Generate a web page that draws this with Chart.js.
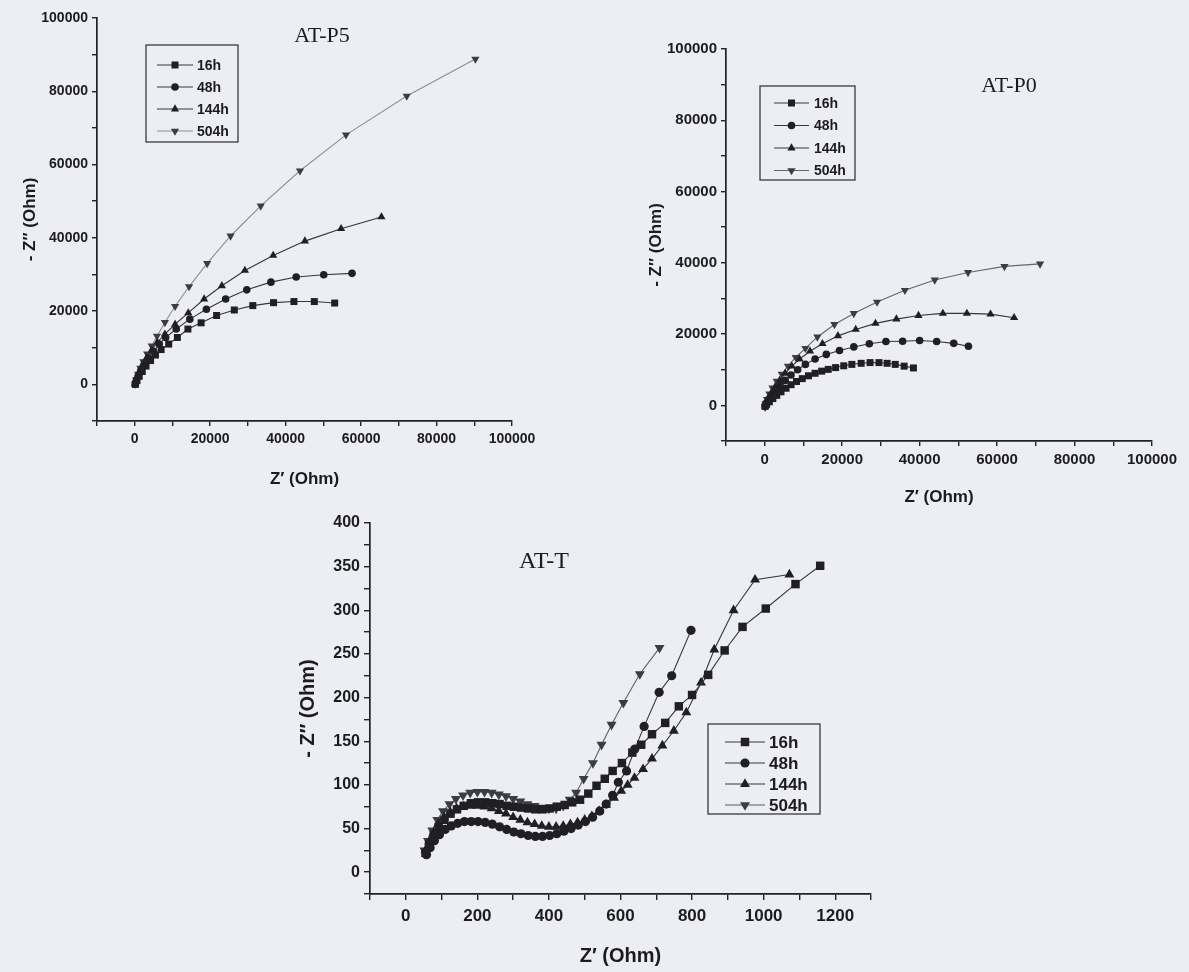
<!DOCTYPE html>
<html>
<head>
<meta charset="utf-8">
<title>AT impedance spectra</title>
<script src="https://cdn.jsdelivr.net/npm/chart.js@4.4.1/dist/chart.umd.min.js"></script>
<style>
  html, body { margin: 0; padding: 0; background: #eceef3; }
  body { width: 1189px; height: 972px; position: relative; overflow: hidden; }
  .panel { position: absolute; }
</style>
</head>
<body>
<div class="panel" style="left:0;top:0"><canvas id="chartP5" width="560" height="500"></canvas></div>
<div class="panel" style="left:620px;top:0"><canvas id="chartP0" width="569" height="510"></canvas></div>
<div class="panel" style="left:280px;top:500px"><canvas id="chartT" width="620" height="472"></canvas></div>
<script>
// series names, shared by the three panels
const SERIES = ['16h', '48h', '144h', '504h'];

// tick labels
const P5_X_TICKS = [0, 20000, 40000, 60000, 80000, 100000];
const P5_Y_TICKS = [0, 20000, 40000, 60000, 80000, 100000];
const P0_X_TICKS = [0, 20000, 40000, 60000, 80000, 100000];
const P0_Y_TICKS = [0, 20000, 40000, 60000, 80000, 100000];
const T_X_TICKS = [0, 200, 400, 600, 800, 1000, 1200];
const T_Y_TICKS = [0, 50, 100, 150, 200, 250, 300, 350, 400];

// AT-P5 : [Z', -Z''] in Ohm
const P5_16H = [[200,0],[600,1000],[1200,2200],[2000,3500],[3000,5000],[4200,6500],[5500,8000],[7000,9500],[9000,11000],[11300,12800],[14100,15100],[17600,16800],[21700,18800],[26400,20300],[31300,21500],[36800,22300],[42200,22600],[47600,22600],[53000,22200]];
const P5_48H = [[100,0],[400,1000],[900,2300],[1600,3800],[2500,5500],[3700,7200],[5000,9000],[6500,11000],[8200,12800],[11000,15100],[14600,17800],[19000,20500],[24100,23300],[29700,25800],[36100,27900],[42800,29300],[50100,29900],[57600,30300]];
const P5_144H = [[100,0],[300,1000],[800,2300],[1400,3800],[2200,5500],[3200,7300],[4500,9300],[6000,11500],[8000,13700],[10700,16400],[14200,19500],[18400,23300],[23100,26900],[29200,31100],[36700,35200],[45100,39100],[54700,42500],[65400,45700]];
const P5_504H = [[100,200],[400,1300],[900,2800],[1500,4400],[2300,6200],[3300,8300],[4500,10500],[5900,13200],[8000,16900],[10700,21300],[14400,26700],[19200,33000],[25400,40500],[33400,48700],[43800,58300],[56000,68100],[72100,78700],[90300,88800]];

// AT-P0
const P0_16H = [[100,-300],[500,300],[1200,1000],[2100,1900],[3100,2800],[4200,3800],[5500,4800],[6800,5800],[8200,6700],[9700,7500],[11300,8300],[13000,9000],[14700,9600],[16400,10100],[18300,10600],[20400,11100],[22500,11500],[24900,11800],[27200,12000],[29500,12000],[31600,11800],[33700,11500],[36000,11000],[38400,10500]];
const P0_48H = [[100,-200],[500,700],[1100,1700],[1900,2900],[2900,4200],[4000,5500],[5300,7000],[6800,8500],[8500,10000],[10500,11500],[13000,13000],[15900,14300],[19300,15400],[23000,16400],[27000,17300],[31300,17900],[35600,18000],[40000,18200],[44400,17900],[48800,17400],[52600,16600]];
const P0_144H = [[100,-300],[300,600],[900,2000],[1700,3500],[2700,5200],[3900,7000],[5300,9000],[7000,11000],[9000,13000],[11700,15200],[14900,17300],[18900,19500],[23500,21300],[28600,23000],[34000,24200],[39700,25200],[46000,25800],[52200,25800],[58300,25600],[64400,24600]];
const P0_504H = [[100,-500],[200,500],[600,1700],[1200,3200],[2000,4900],[3100,6800],[4400,8800],[6000,11000],[8000,13500],[10500,16000],[13600,19200],[18000,22700],[23000,25800],[29000,29000],[36200,32300],[43900,35200],[52500,37300],[61900,39000],[71100,39700]];

// AT-T
const T_16H = [[55,22],[65,32],[78,42],[92,52],[108,60],[125,67],[143,72],[162,76],[182,79],[202,80],[222,80],[242,79],[262,78],[282,76],[302,75],[322,74],[342,73],[362,72],[382,72],[402,73],[422,75],[444,77],[465,80],[487,83],[510,90],[533,99],[556,107],[578,116],[604,125],[633,137],[658,146],[688,158],[725,171],[763,190],[800,203],[845,226],[891,254],[941,281],[1006,302],[1089,330],[1158,351]];
const T_48H = [[58,20],[68,28],[80,36],[94,43],[110,49],[127,53],[145,56],[164,58],[183,58],[202,58],[222,57],[242,55],[262,52],[282,49],[302,46],[322,44],[342,42],[362,41],[382,41],[402,42],[422,44],[442,47],[462,50],[482,54],[502,58],[522,63],[542,70],[560,78],[578,88],[594,103],[617,116],[640,141],[666,167],[708,206],[743,225],[797,277]];
const T_144H = [[55,25],[65,35],[77,45],[91,55],[107,63],[124,69],[142,73],[161,75],[180,76],[200,76],[220,75],[240,73],[260,70],[280,67],[300,63],[320,60],[340,57],[360,55],[380,53],[400,52],[420,52],[440,53],[460,55],[480,57],[500,60],[520,64],[540,70],[560,77],[582,85],[602,93],[620,100],[639,108],[663,118],[688,130],[717,145],[749,162],[784,183],[825,217],[862,255],[916,300],[976,335],[1072,341]];
const T_504H = [[52,25],[62,36],[74,48],[88,60],[104,70],[122,78],[140,84],[160,88],[180,91],[200,92],[220,92],[240,91],[260,89],[280,87],[300,84],[320,81],[340,78],[360,76],[380,74],[400,73],[420,73],[440,76],[458,83],[476,91],[497,107],[523,125],[547,146],[575,169],[608,194],[654,227],[709,257]];

const INK = '#1c1c1f';
const MARKERS = [
    { style: 'rect', rot: 0, scale: 1.3 },
    { style: 'circle', rot: 0, scale: 1.0 },
    { style: 'triangle', rot: 0, scale: 1.25 },
    { style: 'triangle', rot: 180, scale: 1.25 }
];

// title + boxed legend drawn on top of the plot
const panelDecor = {
    id: 'panelDecor',
    afterDraw(chart, args, opts) {
        const ctx = chart.ctx;
        ctx.save();
        ctx.fillStyle = INK;
        ctx.font = opts.titleFont;
        ctx.textAlign = 'center';
        ctx.textBaseline = 'middle';
        ctx.fillText(opts.title, opts.titleX, opts.titleY);

        const lg = opts.legend;
        ctx.fillStyle = '#eceef3';
        ctx.fillRect(lg.left, lg.top, lg.width, lg.height);
        ctx.strokeStyle = '#3a3a3e';
        ctx.lineWidth = 1.3;
        ctx.strokeRect(lg.left, lg.top, lg.width, lg.height);
        chart.data.datasets.forEach((ds, i) => {
            const y = lg.top + lg.rowStart + i * lg.rowGap;
            ctx.strokeStyle = ds.borderColor;
            ctx.lineWidth = 1.2;
            ctx.beginPath();
            ctx.moveTo(lg.lineX0, y);
            ctx.lineTo(lg.lineX1, y);
            ctx.stroke();
            ctx.fillStyle = ds.pointBackgroundColor;
            Chart.helpers.drawPoint(ctx, {
                pointStyle: ds.pointStyle, rotation: ds.pointRotation,
                radius: ds.pointRadius, borderWidth: 0
            }, (lg.lineX0 + lg.lineX1) / 2, y);
            ctx.fillStyle = INK;
            ctx.font = lg.font;
            ctx.textAlign = 'left';
            ctx.fillText(ds.label, lg.textX, y + 1);
        });
        ctx.restore();
    }
};

function makeDatasets(seriesData, radius, lightColor) {
    return seriesData.map((pts, i) => ({
        label: SERIES[i],
        data: pts.map(p => ({ x: p[0], y: p[1] })),
        showLine: true,
        borderColor: i === 3 ? lightColor : '#36363a',
        borderWidth: 1.1,
        pointStyle: MARKERS[i].style,
        pointRotation: MARKERS[i].rot,
        pointRadius: radius * MARKERS[i].scale,
        pointBackgroundColor: i === 3 ? '#3c3c46' : '#202024',
        pointBorderWidth: 0,
        pointHoverRadius: radius * MARKERS[i].scale
    }));
}

function makeAxis(c) {
    const horizontal = c.position === 'bottom';
    return {
        type: 'linear',
        position: c.position,
        min: c.min,
        max: c.max,
        afterFit: s => { if (horizontal) s.height = c.size; else s.width = c.size; },
        border: { display: true, color: '#222226', width: 1.7 },
        grid: { drawOnChartArea: false, drawTicks: true, tickLength: c.tickLen, color: '#222226', lineWidth: 1.4 },
        ticks: {
            stepSize: c.step,
            autoSkip: false,
            maxRotation: 0,
            padding: c.tickPad,
            color: INK,
            font: { family: 'Liberation Sans, Arial, sans-serif', weight: 'bold', size: c.tickFont },
            callback: v => c.labels.includes(v) ? String(v) : ''
        },
        title: {
            display: true,
            text: c.title,
            color: INK,
            font: { family: 'Liberation Sans, Arial, sans-serif', weight: 'bold', size: c.titleFont },
            padding: horizontal ? { top: 0, bottom: c.titlePad } : { top: c.titlePad, bottom: 0 }
        }
    };
}

function makeChart(id, datasets, padding, xAxis, yAxis, decor) {
    return new Chart(document.getElementById(id), {
        type: 'scatter',
        data: { datasets: datasets },
        plugins: [panelDecor],
        options: {
            responsive: false,
            animation: false,
            devicePixelRatio: 1,
            layout: { padding: padding },
            plugins: {
                legend: { display: false },
                tooltip: { enabled: false },
                panelDecor: decor
            },
            scales: { x: makeAxis(xAxis), y: makeAxis(yAxis) }
        }
    });
}

makeChart('chartP5',
    makeDatasets([P5_16H, P5_48H, P5_144H, P5_504H], 3.8, '#8e8e96'),
    { left: 0, top: 18, right: 48, bottom: 10 },
    { position: 'bottom', min: -10000, max: 100000, step: 10000, labels: P5_X_TICKS, size: 69, tickLen: 5, tickPad: 5, tickFont: 14, title: 'Z\u2032 (Ohm)', titleFont: 17, titlePad: 0 },
    { position: 'left', min: -10000, max: 100000, step: 10000, labels: P5_Y_TICKS, size: 97, tickLen: 5, tickPad: 4, tickFont: 14, title: '- Z\u2033 (Ohm)', titleFont: 17, titlePad: 20 },
    { title: 'AT-P5', titleX: 322, titleY: 36, titleFont: '22px "Liberation Serif", "Times New Roman", serif',
      legend: { left: 146, top: 45, width: 92, height: 97, rowStart: 20, rowGap: 22, lineX0: 157, lineX1: 193, textX: 197, font: 'bold 14px "Liberation Sans", Arial, sans-serif' } }
);

makeChart('chartP0',
    makeDatasets([P0_16H, P0_48H, P0_144H, P0_504H], 3.8, '#66666c'),
    { left: 0, top: 49, right: 37, bottom: 2 },
    { position: 'bottom', min: -10000, max: 100000, step: 10000, labels: P0_X_TICKS, size: 67, tickLen: 5, tickPad: 5, tickFont: 15, title: 'Z\u2032 (Ohm)', titleFont: 17, titlePad: 0 },
    { position: 'left', min: -10000, max: 100000, step: 10000, labels: P0_Y_TICKS, size: 106, tickLen: 5, tickPad: 4, tickFont: 15, title: '- Z\u2033 (Ohm)', titleFont: 17, titlePad: 26 },
    { title: 'AT-P0', titleX: 389, titleY: 86, titleFont: '22px "Liberation Serif", "Times New Roman", serif',
      legend: { left: 140, top: 86, width: 95, height: 94, rowStart: 17, rowGap: 22.5, lineX0: 154, lineX1: 189, textX: 194, font: 'bold 14px "Liberation Sans", Arial, sans-serif' } }
);

makeChart('chartT',
    makeDatasets([T_16H, T_48H, T_144H, T_504H], 4.6, '#5e5e64'),
    { left: 0, top: 23, right: 29, bottom: 4 },
    { position: 'bottom', min: -100, max: 1300, step: 100, labels: T_X_TICKS, size: 74, tickLen: 6, tickPad: 6, tickFont: 17, title: 'Z\u2032 (Ohm)', titleFont: 20, titlePad: 0 },
    { position: 'left', min: -25, max: 400, step: 25, labels: T_Y_TICKS, size: 90, tickLen: 6, tickPad: 4, tickFont: 16, title: '- Z\u2033 (Ohm)', titleFont: 20, titlePad: 16 },
    { title: 'AT-T', titleX: 264, titleY: 62, titleFont: '24px "Liberation Serif", "Times New Roman", serif',
      legend: { left: 428, top: 224, width: 112, height: 90, rowStart: 18, rowGap: 21, lineX0: 445, lineX1: 485, textX: 489, font: 'bold 17px "Liberation Sans", Arial, sans-serif' } }
);
</script>
</body>
</html>
